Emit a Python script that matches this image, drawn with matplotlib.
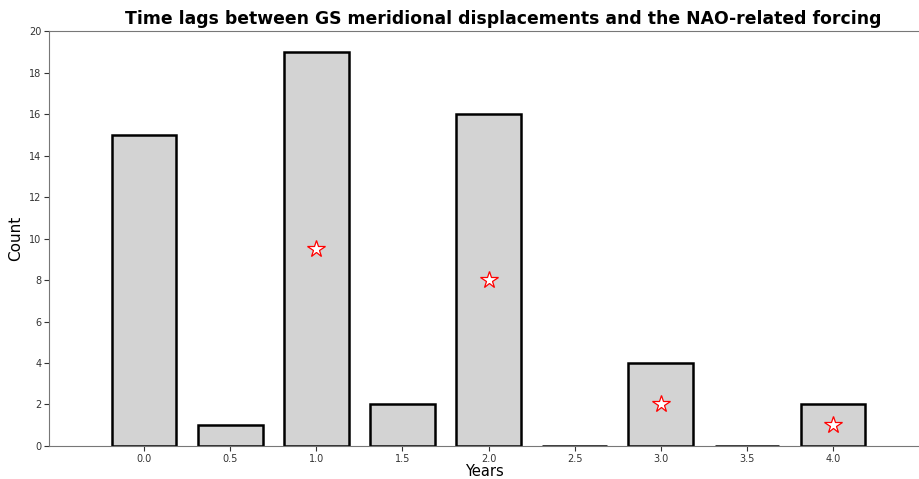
import matplotlib
matplotlib.use("Agg")
import matplotlib.pyplot as plt

# Lag histogram (years) and the half-height markers
lags = [0.0, 0.5, 1.0, 1.5, 2.0, 2.5, 3.0, 3.5, 4.0]
counts = [15, 1, 19, 2, 16, 0, 4, 0, 2]
star_x = [1.0, 2.0, 3.0, 4.0]
star_y = [9.5, 8, 2, 1]

fig = plt.figure(figsize=(9.19, 4.79), dpi=100)
ax = fig.add_axes([0.0533, 0.069, 0.9467, 0.866])

ax.bar(lags, counts, width=0.375, color='lightgrey', edgecolor='black', linewidth=1.8)
ax.plot(star_x, star_y, linestyle='none', marker='*', markersize=13,
        markerfacecolor='white', markeredgecolor='red', markeredgewidth=0.9)

ax.set_xticks(lags)
ax.set_xticklabels([f"{v:.1f}" for v in lags])
ax.set_xlim(-0.553, 4.5)
ax.set_ylim(0, 20)
ax.set_yticks(range(0, 21, 2))
ax.tick_params(labelsize=7, colors='#333333', pad=2)
for side in ['left', 'bottom', 'top']:
    ax.spines[side].set_color('#777777')
ax.spines['right'].set_visible(False)

ax.set_xlabel('Years', fontsize=10.5, labelpad=0)
ax.set_ylabel('Count', fontsize=11)
ax.set_title('Time lags between GS meridional displacements and the NAO-related forcing',
             fontsize=12.4, fontweight='bold', pad=5, x=0.522)

fig.savefig('out.png', dpi=100)
